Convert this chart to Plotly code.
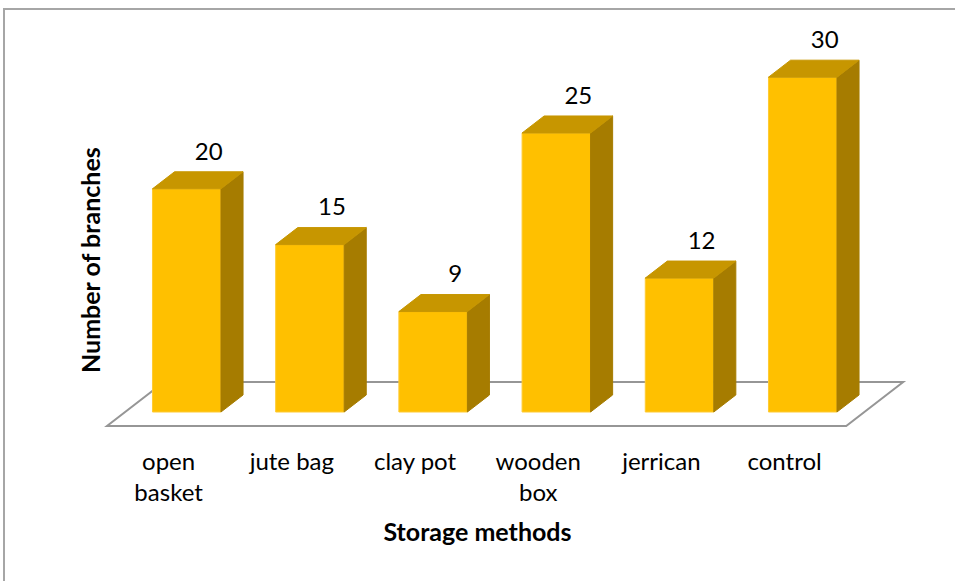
import plotly.graph_objects as go

# Number of branches per storage method
categories = ["open<br>basket", "jute bag", "clay pot", "wooden<br>box", "jerrican", "control"]
branches = [20, 15, 9, 25, 12, 30]

# Colours of the three visible faces of each column
FRONT = "#FFC000"
TOP = "#C79600"
SIDE = "#A67C00"
FLOOR_LINE = "#969696"

# Oblique projection of the depth axis, expressed in axis units
DEPTH_X = 0.4627      # category units per full floor depth
DEPTH_Y = 3.943       # value units per full floor depth
D_FRONT = 0.318       # depth of a column's front face (0 = front edge of floor)
D_BACK = 0.705        # depth of a column's back face
HALF_W = 0.278        # half width of a column in category units

PLOT_H = 437          # plot area height in px (figure height minus bottom margin)

x_idx = list(range(len(categories)))

fig = go.Figure()

# Front faces as ordinary bars raised to the depth of the front face
fig.add_trace(go.Bar(
    x=[i + D_FRONT * DEPTH_X for i in x_idx],
    y=branches,
    base=D_FRONT * DEPTH_Y,
    width=2 * HALF_W,
    marker=dict(color=FRONT, line=dict(color="#FFCB33", width=1)),
    hoverinfo="skip",
    showlegend=False,
))

ddx = (D_BACK - D_FRONT) * DEPTH_X
ddy = (D_BACK - D_FRONT) * DEPTH_Y

for i, v in zip(x_idx, branches):
    xl = i + D_FRONT * DEPTH_X - HALF_W
    xr = i + D_FRONT * DEPTH_X + HALF_W
    yb = D_FRONT * DEPTH_Y
    yt = yb + v
    # right side face
    fig.add_trace(go.Scatter(
        x=[xr, xr + ddx, xr + ddx, xr, xr],
        y=[yb, yb + ddy, yt + ddy, yt, yb],
        mode="lines", fill="toself", fillcolor=SIDE,
        line=dict(color=SIDE, width=1), hoverinfo="skip", showlegend=False,
    ))
    # top face
    fig.add_trace(go.Scatter(
        x=[xl, xr, xr + ddx, xl + ddx, xl],
        y=[yt, yt, yt + ddy, yt + ddy, yt],
        mode="lines", fill="toself", fillcolor=TOP,
        line=dict(color=TOP, width=1), hoverinfo="skip", showlegend=False,
    ))

# Value labels above the back edge of each column top
fig.add_trace(go.Scatter(
    x=[i + D_BACK * DEPTH_X for i in x_idx],
    y=[v + D_BACK * DEPTH_Y + 0.55 for v in branches],
    mode="text",
    text=[str(v) for v in branches],
    textposition="top center",
    textfont=dict(family="Lato", size=24, color="#000000"),
    hoverinfo="skip", showlegend=False,
))

# Floor of the 3-D chart
n = len(categories)
fx0, fx1 = -0.5, n - 0.5
floor_path = (f"M {fx0},0 L {fx1},0 L {fx1 + DEPTH_X},{DEPTH_Y} "
              f"L {fx0 + DEPTH_X},{DEPTH_Y} Z")
fig.add_shape(type="path", path=floor_path, xref="x", yref="y",
              line=dict(color=FLOOR_LINE, width=2), layer="below")

# Chart border (right and bottom edges run past the visible page)
fig.add_shape(type="rect", xref="paper", yref="paper",
              x0=4 / 955, x1=1.05, y0=-0.6, y1=(PLOT_H - 9) / PLOT_H,
              line=dict(color="#A6A6A6", width=2), layer="below")

fig.add_annotation(
    text="<b>Number of branches</b>", textangle=-90,
    xref="paper", yref="paper", x=90 / 955, y=(PLOT_H - 260) / PLOT_H,
    xanchor="center", yanchor="middle",
    showarrow=False, font=dict(family="Lato", size=25, color="#000000"),
)

fig.update_layout(
    width=955, height=581,
    margin=dict(l=0, r=0, t=0, b=581 - PLOT_H),
    paper_bgcolor="white", plot_bgcolor="white",
    showlegend=False,
    xaxis=dict(
        range=[-168.6 / 123.2, (955 - 168.6) / 123.2],
        tickvals=x_idx, ticktext=categories,
        ticks="outside", ticklen=3, tickcolor="rgba(0,0,0,0)",
        tickfont=dict(family="Lato", size=24, color="#000000"),
        showgrid=False, zeroline=False, showline=False, automargin=False,
        title=dict(text="<b>Storage methods</b>", standoff=18,
                   font=dict(family="Lato", size=25, color="#000000")),
        fixedrange=True,
    ),
    yaxis=dict(
        range=[426 / 11.16 - PLOT_H / 11.16, 426 / 11.16],
        showticklabels=False, showgrid=False, zeroline=False, showline=False,
        automargin=False, fixedrange=True,
    ),
)

fig.write_html("out.html")
